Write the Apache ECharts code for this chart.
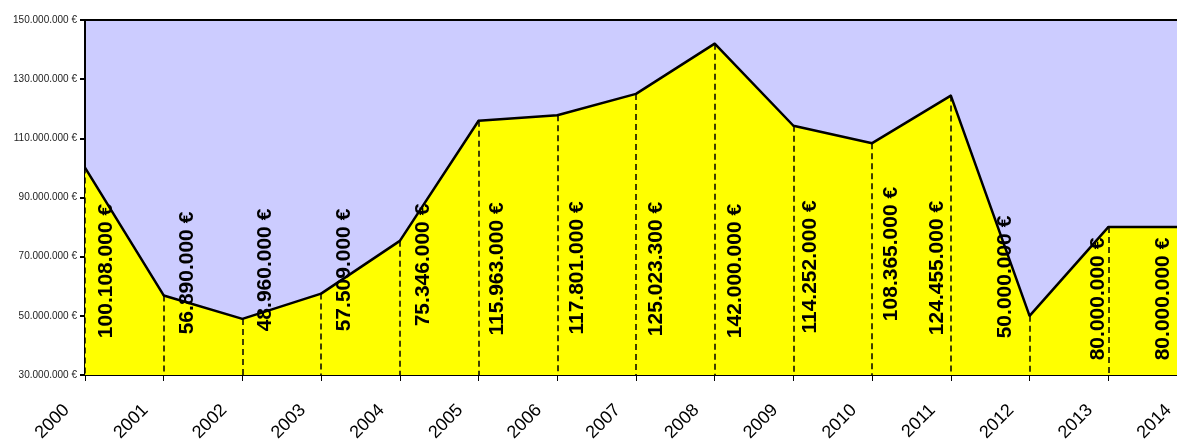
<!DOCTYPE html>
<html>
<head>
<meta charset="utf-8">
<title>Umsatz 2000-2014</title>
<script src="https://cdn.jsdelivr.net/npm/echarts@6/dist/echarts.min.js"></script>
<style>
  html, body { margin: 0; padding: 0; background: #fff; }
  #chart { width: 1177px; height: 445px; }
</style>
</head>
<body>
<div id="chart"></div>
<script>
// Chart data
const years = ['2000', '2001', '2002', '2003', '2004', '2005', '2006', '2007',
  '2008', '2009', '2010', '2011', '2012', '2013', '2014']
const amounts = [100108000, 56890000, 48960000, 57509000, 75346000, 115963000,
  117801000, 125023300, 142000000, 114252000, 108365000, 124455000,
  50000000, 80000000, 80000000]
const yTicks = [30000000, 50000000, 70000000, 90000000, 110000000, 130000000, 150000000]

// label placement (px)
const labelDx = [21, 23, 23, 23, 23, 19, 20, 20, 20, 17, 19, -14, -24, -10, -24]
const labelCy = [271, 273, 270, 270, 265, 269, 268, 269, 271, 267, 254, 268, 277, 299, 299]

const FONT = "'Liberation Sans', Arial, sans-serif"

// thousands with dots, then euro sign
function euro(v) {
  return String(Math.round(v)).replace(/\B(?=(\d{3})+(?!\d))/g, '.') + ' €'
}

const yMin = yTicks[0]
const yMax = yTicks[yTicks.length - 1]

// dashed drop lines from every point down to the axis
const dropLines = amounts.map((v, i) => [
  { coord: [i, v] },
  { coord: [i, yMin] },
])

const chart = echarts.init(document.getElementById('chart'))
const option = {
  animation: false,
  grid: {
    left: 85,
    right: -10,
    top: 20,
    bottom: 70,
    show: true,
    backgroundColor: '#CCCCFF',
    borderColor: '#000',
    borderWidth: 2,
    outerBoundsMode: 'none',
  },
  xAxis: {
    type: 'category',
    boundaryGap: false,
    data: years,
    axisLine: { lineStyle: { color: '#000', width: 2 } },
    axisTick: { show: true, alignWithLabel: true, length: 6, lineStyle: { color: '#000', width: 1 } },
    axisLabel: {
      interval: 0,
      rotate: 45,
      margin: 14,
      padding: [0, 26, 0, 0],
      color: '#000',
      fontFamily: FONT,
      fontSize: 18,
    },
    splitLine: { show: false },
  },
  yAxis: {
    type: 'value',
    min: yMin,
    max: yMax,
    interval: yTicks[1] - yTicks[0],
    axisLine: { show: true, lineStyle: { color: '#000', width: 2 } },
    axisTick: { show: true, length: 5, lineStyle: { color: '#000', width: 2 } },
    axisLabel: {
      margin: 8,
      color: '#222',
      fontFamily: FONT,
      fontSize: 10,
      formatter: euro,
    },
    splitLine: { show: false },
  },
  series: [
    {
      type: 'line',
      data: amounts,
      showSymbol: true,
      symbol: 'circle',
      symbolSize: 2,
      itemStyle: { color: '#000' },
      lineStyle: { color: '#000', width: 2.5 },
      areaStyle: { color: '#FFFF00', opacity: 1, origin: 'start' },
      z: 3,
      label: {
        show: true,
        rotate: 90,
        color: '#000',
        fontFamily: FONT,
        fontSize: 21,
        fontWeight: 'bold',
        formatter: (p) => euro(p.value),
      },
      labelLayout: (params) => {
        const i = params.dataIndex
        return {
          x: params.rect.x + params.rect.width / 2 + labelDx[i],
          y: labelCy[i],
          align: 'center',
          verticalAlign: 'middle',
        }
      },
      markLine: {
        silent: true,
        symbol: ['none', 'none'],
        label: { show: false },
        lineStyle: { color: '#000', type: [6, 4], width: 1.5 },
        data: dropLines,
      },
    },
  ],
}
chart.setOption(option)
</script>
</body>
</html>
